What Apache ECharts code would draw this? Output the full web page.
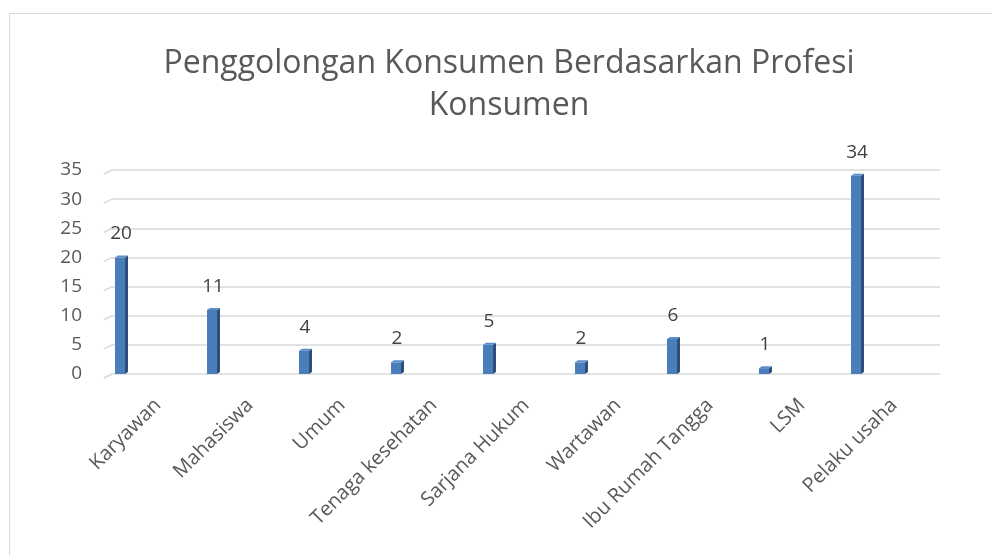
<!DOCTYPE html>
<html>
<head>
<meta charset="utf-8">
<script src="https://cdn.jsdelivr.net/npm/echarts@6/dist/echarts.min.js"></script>
<style>
  html, body { margin: 0; padding: 0; background: #fff; }
  #chart { width: 992px; height: 555px; }
</style>
</head>
<body>
<div id="chart"></div>
<script>
const titleText = 'Penggolongan Konsumen Berdasarkan Profesi\nKonsumen'
const categories = ['Karyawan', 'Mahasiswa', 'Umum', 'Tenaga kesehatan', 'Sarjana Hukum', 'Wartawan', 'Ibu Rumah Tangga', 'LSM', 'Pelaku usaha']
const values = [20, 11, 4, 2, 5, 2, 6, 1, 34]
const yTicks = [0, 5, 10, 15, 20, 25, 30, 35]

const font = '"Open Sans", sans-serif'

const chart = echarts.init(document.getElementById('chart'))

// thin 3d column drawn at the left part of each category band, like excel
function renderColumn(params, api) {
  const idx = api.value(0)
  const val = api.value(1)
  const top = api.coord([idx, val])
  const base = api.coord([idx, 0])
  const band = api.size([1, 0])[0]
  const x = top[0] - band / 2 + 3
  const w = 10
  const d = 3
  const h = base[1] - top[1]
  return {
    type: 'group',
    children: [
      { type: 'rect', shape: { x: x, y: top[1], width: w, height: h }, style: { fill: '#4a7ebb' } },
      { type: 'polygon', shape: { points: [[x + w, top[1]], [x + w + d, top[1] - 2], [x + w + d, base[1] - 2], [x + w, base[1]]] }, style: { fill: '#2c4f7c' } },
      { type: 'polygon', shape: { points: [[x, top[1]], [x + d, top[1] - 2], [x + w + d, top[1] - 2], [x + w, top[1]]] }, style: { fill: '#5a8ccc' } },
      { type: 'text', style: { text: String(val), x: x + w / 2 + 1, y: top[1] - 14, align: 'center', verticalAlign: 'bottom', fontSize: 19, fontFamily: font, fill: '#404040' } },
    ],
  }
}

// short slanted bit of the side wall at the left end of every gridline
function renderWallTick(params, api) {
  const p = api.coord([0, api.value(1)])
  const band = api.size([1, 0])[0]
  const x0 = p[0] - band / 2
  return {
    type: 'line',
    shape: { x1: x0 - 8, y1: p[1] + 4, x2: x0, y2: p[1] },
    style: { stroke: '#d9d9d9', lineWidth: 1.5 },
  }
}

chart.setOption({
  animation: false,
  title: {
    text: titleText,
    left: 504,
    top: 38,
    textAlign: 'center',
    textStyle: { fontSize: 32, fontWeight: 'normal', color: '#595959', fontFamily: font, lineHeight: 42 },
  },
  graphic: [
    { type: 'rect', shape: { x: 9.5, y: 13.5, width: 1000, height: 600 }, style: { fill: 'none', stroke: '#d9d9d9', lineWidth: 1 }, z: -1 },
  ],
  grid: { left: 112, right: 52, top: 170, bottom: 181 },
  xAxis: {
    type: 'category',
    data: categories,
    axisLine: { show: false },
    axisTick: { show: false },
    axisLabel: { rotate: 45, interval: 0, margin: 28, fontSize: 20, color: '#595959', fontFamily: font },
  },
  yAxis: {
    type: 'value',
    min: 0,
    max: 35,
    interval: 5,
    axisLine: { show: false },
    axisTick: { show: false },
    axisLabel: { margin: 30, fontSize: 19, color: '#595959', fontFamily: font },
    splitLine: { lineStyle: { color: '#d9d9d9', width: 1.5 } },
  },
  series: [
    {
      type: 'custom',
      renderItem: renderWallTick,
      data: yTicks.map(v => [0, v]),
      encode: { x: 0, y: 1 },
      silent: true,
      z: 1,
    },
    {
      type: 'custom',
      renderItem: renderColumn,
      data: values.map((v, i) => [i, v]),
      encode: { x: 0, y: 1 },
      z: 2,
    },
  ],
})
</script>
</body>
</html>
